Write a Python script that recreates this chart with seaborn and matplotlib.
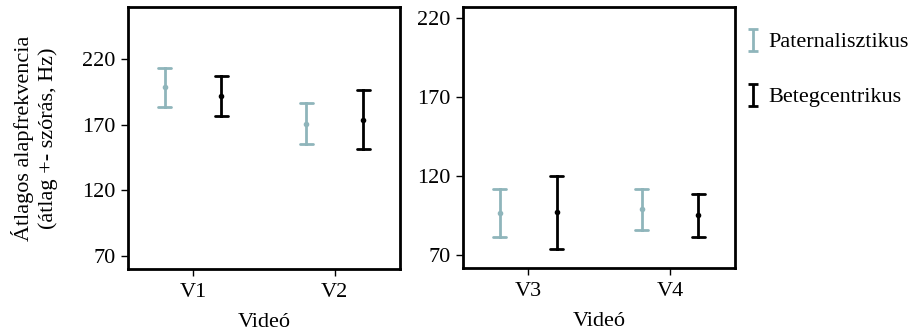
import numpy as np
import pandas as pd
import matplotlib
matplotlib.use("Agg")
import matplotlib.pyplot as plt
from matplotlib.path import Path
from matplotlib.lines import Line2D
import seaborn as sns

# summary values (mean and sd of fundamental frequency, Hz)
videos = ["V1", "V2", "V3", "V4"]
groups = ["Paternalisztikus", "Betegcentrikus"]
pat_mean = [198.6, 170.9, 97.0, 99.1]
pat_sd = [14.8, 15.8, 15.2, 13.1]
bet_mean = [192.3, 174.0, 97.2, 95.3]
bet_sd = [15.2, 22.6, 22.9, 13.6]

colors = {"Paternalisztikus": "#8fb5bb", "Betegcentrikus": "#000000"}

# long form: lower end, mean, upper end for each video / group
rows = []
for g, means, sds in [(groups[0], pat_mean, pat_sd), (groups[1], bet_mean, bet_sd)]:
    for v, m, s in zip(videos, means, sds):
        for val in (m - s, m, m + s):
            rows.append({"Videó": v, "csoport": g, "value": val})
df = pd.DataFrame(rows)

FS = 16

sns.set_theme(style="white")
plt.rcParams["font.family"] = ["Liberation Serif", "DejaVu Serif"]
plt.rcParams["font.size"] = FS
plt.rcParams["text.color"] = "black"
plt.rcParams["axes.labelcolor"] = "black"

fig = plt.figure(figsize=(9.14, 3.31), dpi=100)
ax1 = fig.add_axes([0.140, 0.187, 0.2976, 0.792])
ax2 = fig.add_axes([0.5065, 0.190, 0.2978, 0.789])


def draw_panel(ax, vids):
    sub = df[df["Videó"].isin(vids)]
    sns.pointplot(data=sub, x="Videó", y="value", hue="csoport", order=vids,
                  hue_order=groups, palette=colors, dodge=0.4, linestyle="none",
                  markers="o", markersize=2, estimator="median",
                  errorbar=lambda x: (x.min(), x.max()), capsize=0.09,
                  err_kws={"linewidth": 2}, ax=ax, legend=False)
    ax.set_xlim(-0.46, 1.46)
    for sp in ax.spines.values():
        sp.set_visible(True)
        sp.set_color("black")
        sp.set_linewidth(2)
    ax.tick_params(axis="both", which="major", direction="out", length=5, width=1,
                   color="black", labelsize=FS, bottom=True, left=True,
                   labelcolor="black", pad=4)
    ax.tick_params(axis="x", pad=5)
    ax.set_xlabel("Videó", fontsize=FS, color="black", labelpad=8)
    ax.set_ylabel("")


draw_panel(ax1, videos[:2])
draw_panel(ax2, videos[2:])

ax1.set_ylim(60, 260)
ax1.set_yticks([70, 120, 170, 220])
ax1.set_ylabel("Átlagos alapfrekvencia\n(átlag +- szórás, Hz)", fontsize=FS,
               color="black", labelpad=17, linespacing=1.3)
ax2.set_ylim(62, 227)
ax2.set_yticks([70, 120, 170, 220])

# errorbar-like "I" glyph for the legend
ibar = Path([(-0.5, -1), (0.5, -1), (0, -1), (0, 1), (-0.5, 1), (0.5, 1)],
            [Path.MOVETO, Path.LINETO, Path.MOVETO, Path.LINETO, Path.MOVETO, Path.LINETO])
handles = [Line2D([], [], linestyle="none", marker=ibar, markersize=15.5,
                  markerfacecolor="none", markeredgecolor=colors[g], markeredgewidth=2)
           for g in groups]
leg = ax2.legend(handles, groups, loc="upper left", bbox_to_anchor=(1.0, 0.939),
                 frameon=False, fontsize=FS, labelspacing=1.55, handlelength=0.8,
                 handletextpad=0.3, borderaxespad=0.0)
for t in leg.get_texts():
    t.set_color("black")

fig.savefig("out.png", dpi=100)
